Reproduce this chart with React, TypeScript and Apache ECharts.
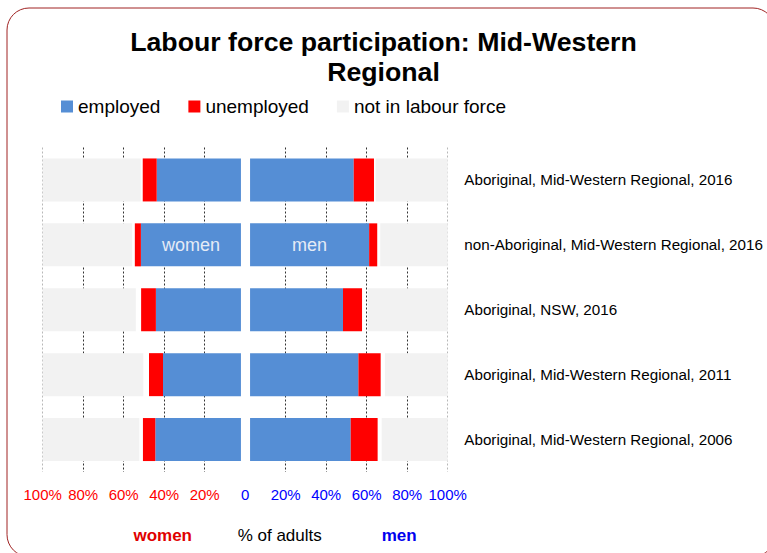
import React, { useEffect, useRef } from "react";
import * as echarts from "echarts";

const categories = [
  "Aboriginal, Mid-Western Regional, 2016",
  "non-Aboriginal, Mid-Western Regional, 2016",
  "Aboriginal, NSW, 2016",
  "Aboriginal, Mid-Western Regional, 2011",
  "Aboriginal, Mid-Western Regional, 2006",
];

// percentages of adults
const womenEmployed = [41.6, 49.4, 42.0, 38.5, 42.3];
const womenUnemployed = [6.9, 3.0, 7.3, 6.9, 6.1];
const womenNotStated = [1.0, 1.3, 2.6, 2.8, 1.8];
const womenNotInLabourForce = [48.4, 44.2, 46.0, 49.7, 47.7];

const menEmployed = [51.2, 58.8, 45.9, 53.5, 49.7];
const menUnemployed = [10.0, 4.0, 9.4, 11.0, 13.3];
const menNotStated = [0.8, 1.5, 2.8, 2.1, 2.0];
const menNotInLabourForce = [35.6, 33.3, 39.5, 31.0, 32.6];

const xTicks = [-100, -80, -60, -40, -20, 0, 20, 40, 60, 80, 100];

const FONT = "'Liberation Sans', Arial, sans-serif";
const BLUE = "#558ed5";
const RED = "#ff0000";
const GREY = "#f2f2f2";
const GAP_WOMEN = 2.1;
const GAP_MEN = 2.4;

export default function App() {
  const ref = useRef<HTMLDivElement>(null);

  useEffect(() => {
    if (!ref.current) return;
    const chart = echarts.init(ref.current, null, { renderer: "svg" });

    const neg = (a: number[]) => a.map((v) => -v);
    const base = { type: "bar", stack: "all", barWidth: 43 };

    const series: any[] = [
      { ...base, name: "gapW", data: categories.map(() => -GAP_WOMEN), itemStyle: { color: "transparent" }, silent: true },
      { ...base, name: "gapM", data: categories.map(() => GAP_MEN), itemStyle: { color: "transparent" }, silent: true },
      {
        ...base,
        name: "employed",
        itemStyle: { color: BLUE },
        data: neg(womenEmployed).map((v, i) =>
          i === 1
            ? { value: v, label: { show: true, position: "inside", formatter: "women", color: "#e4ebf6", fontSize: 18, fontFamily: FONT } }
            : v
        ),
      },
      {
        ...base,
        name: "employed",
        itemStyle: { color: BLUE },
        data: menEmployed.map((v, i) =>
          i === 1
            ? { value: v, label: { show: true, position: "inside", formatter: "men", color: "#e4ebf6", fontSize: 18, fontFamily: FONT } }
            : v
        ),
      },
      { ...base, name: "unemployed", itemStyle: { color: RED }, data: neg(womenUnemployed) },
      { ...base, name: "unemployed", itemStyle: { color: RED }, data: menUnemployed },
      { ...base, name: "not stated", itemStyle: { color: "transparent" }, data: neg(womenNotStated), silent: true },
      { ...base, name: "not stated", itemStyle: { color: "transparent" }, data: menNotStated, silent: true },
      { ...base, name: "not in labour force", itemStyle: { color: GREY }, data: neg(womenNotInLabourForce) },
      { ...base, name: "not in labour force", itemStyle: { color: GREY }, data: menNotInLabourForce },
    ];

    const splitColors = xTicks.map((t) =>
      t === 0 ? "rgba(0,0,0,0)" : Math.abs(t) === 100 ? "#b8b8b8" : "#333333"
    );

    chart.setOption({
      animation: false,
      title: {
        text: "Labour force participation: Mid-Western\nRegional",
        left: "center",
        top: 22,
        textStyle: { fontSize: 26.7, fontWeight: "bold", color: "#000", fontFamily: FONT, lineHeight: 30 },
      },
      legend: {
        data: ["employed", "unemployed", "not in labour force"],
        left: 61,
        top: 97,
        padding: 0,
        icon: "rect",
        itemWidth: 12,
        itemHeight: 12,
        itemGap: 28,
        textStyle: { fontSize: 19, color: "#000", fontFamily: FONT },
      },
      grid: { left: 42.7, right: 319.3, top: 147.5, height: 324.5 },
      xAxis: {
        type: "value",
        min: -100,
        max: 100,
        interval: 20,
        axisLine: { show: false },
        axisTick: { show: false },
        splitLine: { show: true, lineStyle: { color: splitColors, type: [2, 2], width: 1 } },
        axisLabel: {
          margin: 15,
          fontSize: 15,
          fontFamily: FONT,
          formatter: (v: number) => (v === 0 ? "0" : Math.abs(v) + "%"),
          color: (v: any) => (Number(v) < 0 ? "#ff0000" : "#0000ff"),
        },
      },
      yAxis: {
        type: "category",
        data: categories,
        inverse: true,
        position: "right",
        axisLine: { show: false },
        axisTick: { show: false },
        splitLine: { show: false },
        axisLabel: { margin: 16.6, fontSize: 15.2, color: "#000", fontFamily: FONT },
      },
      series,
      graphic: [
        {
          type: "rect",
          shape: { x: 7, y: 8, width: 768, height: 548.6, r: 22 },
          style: { fill: "none", stroke: "#a02323", lineWidth: 1 },
          silent: true,
        },
        {
          type: "text",
          x: 162.7,
          y: 535,
          style: { text: "women", fill: "#e00000", font: `bold 17px ${FONT}`, align: "center", verticalAlign: "middle" },
        },
        {
          type: "text",
          x: 279.7,
          y: 535,
          style: { text: "% of adults", fill: "#000", font: `17px ${FONT}`, align: "center", verticalAlign: "middle" },
        },
        {
          type: "text",
          x: 399.2,
          y: 535,
          style: { text: "men", fill: "#0000ee", font: `bold 17px ${FONT}`, align: "center", verticalAlign: "middle" },
        },
      ],
    });

    return () => chart.dispose();
  }, []);

  return (
    <div
      ref={ref}
      style={{ position: "fixed", left: 0, top: 0, width: 767, height: 553, background: "#fff" }}
    />
  );
}
